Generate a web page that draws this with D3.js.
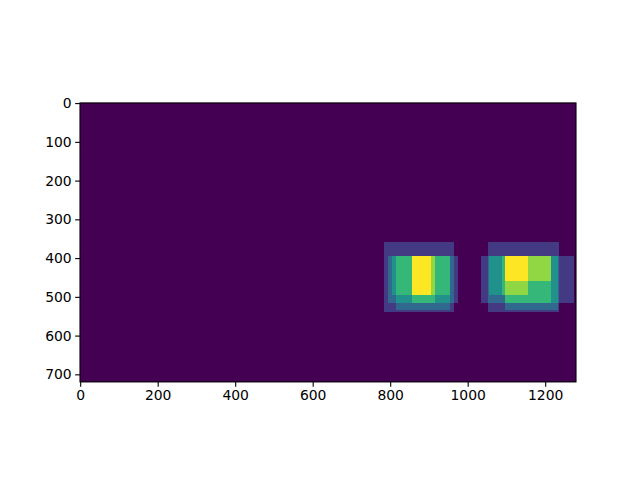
<!DOCTYPE html>
<html>
<head>
<meta charset="utf-8">
<script src="https://cdn.jsdelivr.net/npm/d3@7"></script>
<style>
html,body{margin:0;padding:0;background:#fff;}
svg{display:block;}
text{font-family:"DejaVu Sans",sans-serif;}
</style>
</head>
<body>
<svg id="chart" width="640" height="480"></svg>
<script>
// Image size (heatmap in pixel coordinates)
const imgWidth = 1280;
const imgHeight = 720;

// Detection boxes summed into the heatmap (image pixel coords)
const boxX0 = [784, 795, 805, 815, 857, 857, 1053, 1035, 1056, 1097, 1097, 1089, 1097];
const boxX1 = [965, 975, 955, 955, 916, 906, 1236, 1275, 1097, 1233, 1215, 1156, 1215];
const boxY0 = [359, 395, 395, 395, 395, 395, 359, 395, 395, 395, 395, 395, 395];
const boxY1 = [539, 516, 495, 534, 516, 495, 539, 516, 495, 534, 516, 495, 459];

const xTicks = [0, 200, 400, 600, 800, 1000, 1200];
const yTicks = [0, 100, 200, 300, 400, 500, 600, 700];

(function () {
const svg = d3.select("#chart");
const axLeft = 80, axRight = 576;
const axW = axRight - axLeft;
const axH = axW * imgHeight / imgWidth;
const axTop = (57.6 + 427.2) / 2 - axH / 2;

const x = d3.scaleLinear().domain([-0.5, imgWidth - 0.5]).range([axLeft, axRight]);
const y = d3.scaleLinear().domain([-0.5, imgHeight - 0.5]).range([axTop, axTop + axH]);

// build cell grid from box edges
const xs = Array.from(new Set([-0.5, imgWidth - 0.5, ...boxX0, ...boxX1])).sort((a, b) => a - b);
const ys = Array.from(new Set([-0.5, imgHeight - 0.5, ...boxY0, ...boxY1])).sort((a, b) => a - b);
const cells = [];
for (let i = 0; i < xs.length - 1; i++) {
  for (let j = 0; j < ys.length - 1; j++) {
    const cx = (xs[i] + xs[i + 1]) / 2, cy = (ys[j] + ys[j + 1]) / 2;
    let v = 0;
    for (let k = 0; k < boxX0.length; k++) {
      if (cx >= boxX0[k] && cx < boxX1[k] && cy >= boxY0[k] && cy < boxY1[k]) v++;
    }
    cells.push({x0: xs[i], x1: xs[i + 1], y0: ys[j], y1: ys[j + 1], v});
  }
}
const vmax = d3.max(cells, d => d.v);
const color = d3.scaleSequential(d3.interpolateViridis).domain([0, vmax]);

svg.append("g").attr("shape-rendering", "crispEdges")
  .selectAll("rect").data(cells).join("rect")
  .attr("x", d => x(d.x0)).attr("y", d => y(d.y0))
  .attr("width", d => x(d.x1) - x(d.x0) + 0.3)
  .attr("height", d => y(d.y1) - y(d.y0) + 0.3)
  .attr("fill", d => color(d.v));

// frame
svg.append("rect").attr("x", axLeft).attr("y", axTop).attr("width", axW).attr("height", axH)
  .attr("fill", "none").attr("stroke", "#000").attr("stroke-width", 1.1);

const xAxis = d3.axisBottom(x).tickValues(xTicks).tickSize(4.86).tickPadding(3.5).tickFormat(d3.format("d"));
const yAxis = d3.axisLeft(y).tickValues(yTicks).tickSize(4.86).tickPadding(3.5).tickFormat(d3.format("d"));

const gx = svg.append("g").attr("transform", `translate(0,${axTop + axH})`).call(xAxis);
const gy = svg.append("g").attr("transform", `translate(${axLeft},0)`).call(yAxis);
[gx, gy].forEach(g => {
  g.select(".domain").remove();
  g.selectAll("line").attr("stroke", "#000").attr("stroke-width", 1.1);
  g.selectAll("text").attr("fill", "#000").style("font-size", "13.9px").style("font-family", "DejaVu Sans, sans-serif");
});
})();
</script>
</body>
</html>
